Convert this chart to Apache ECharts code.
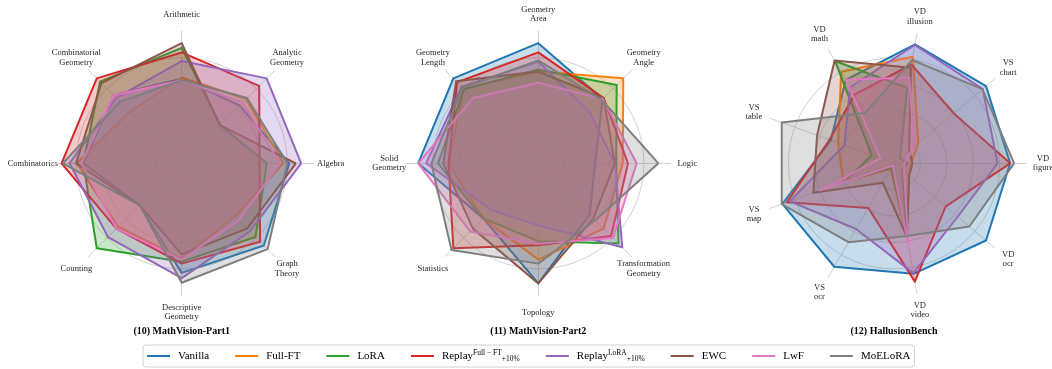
<!DOCTYPE html>
<html>
<head>
<meta charset="utf-8">
<script src="https://cdn.jsdelivr.net/npm/echarts@6/dist/echarts.min.js"></script>
<style>
  html, body { margin: 0; padding: 0; background: #fff; }
  #chart { width: 1052px; height: 369px; }
</style>
</head>
<body>
<div id="chart"></div>
<script>
// Methods compared in every panel, with their line colours
const methods = ['Vanilla', 'Full-FT', 'LoRA', 'Replay Full-FT', 'Replay LoRA', 'EWC', 'LwF', 'MoELoRA'];
const colors = ['#1f77b4', '#ff7f0e', '#2ca02c', '#d62728', '#9467bd', '#8c564b', '#e377c2', '#7f7f7f'];

// (10) MathVision-Part1: axes listed counter-clockwise starting at 3 o'clock
const part1Axes = ['Algebra', 'Analytic\nGeometry', 'Arithmetic', 'Combinatorial\nGeometry',
  'Combinatorics', 'Counting', 'Descriptive\nGeometry', 'Graph\nTheory'];
// one row per method, normalised scores
const part1Scores = [
  [0.815, 0.62, 0.64, 0.73, 0.745, 0.45, 0.83, 0.88],   // Vanilla
  [0.77, 0.69, 0.65, 0.555, 0.795, 0.68, 0.72, 0.57],   // Full-FT
  [0.645, 0.41, 0.875, 0.875, 0.745, 0.91, 0.745, 0.79], // LoRA
  [0.59, 0.83, 0.84, 0.91, 0.91, 0.70, 0.76, 0.84],     // Replay Full-FT
  [0.905, 0.91, 0.775, 0.70, 0.85, 0.79, 0.87, 0.73],   // Replay LoRA
  [0.865, 0.41, 0.91, 0.86, 0.80, 0.45, 0.69, 0.70],    // EWC
  [0.745, 0.65, 0.63, 0.73, 0.76, 0.70, 0.73, 0.61],    // LwF
  [0.80, 0.70, 0.63, 0.66, 0.90, 0.45, 0.905, 0.92]     // MoELoRA
];

// (11) MathVision-Part2
const part2Axes = ['Logic', 'Geometry\nAngle', 'Geometry\nArea', 'Geometry\nLength',
  'Solid\nGeometry', 'Statistics', 'Topology', 'Transformation\nGeometry'];
const part2Scores = [
  [0.43, 0.69, 0.91, 0.91, 0.91, 0.59, 0.91, 0.55],     // Vanilla
  [0.64, 0.91, 0.695, 0.80, 0.68, 0.59, 0.73, 0.70],    // Full-FT
  [0.59, 0.84, 0.71, 0.795, 0.76, 0.59, 0.59, 0.86],    // LoRA
  [0.68, 0.70, 0.84, 0.87, 0.68, 0.91, 0.62, 0.78],     // Replay Full-FT
  [0.58, 0.55, 0.77, 0.82, 0.85, 0.50, 0.47, 0.90],     // Replay LoRA
  [0.58, 0.70, 0.695, 0.88, 0.72, 0.70, 0.91, 0.59],    // EWC
  [0.745, 0.69, 0.61, 0.70, 0.91, 0.73, 0.61, 0.80],    // LwF
  [0.91, 0.68, 0.78, 0.81, 0.81, 0.93, 0.76, 0.61]      // MoELoRA
];

// (12) HallusionBench
const hallAxes = ['VD\nfigure', 'VS\nchart', 'VD\nillusion', 'VD\nmath', 'VS\ntable',
  'VS\nmap', 'VS\nocr', 'VD\nvideo', 'VD\nocr'];
const hallScores = [
  [0.88, 0.91, 0.915, 0.73, 0.51, 0.90, 0.905, 0.85, 0.91],  // Vanilla
  [0.13, 0.24, 0.82, 0.80, 0.45, 0.41, 0.05, 0.55, 0.15],    // Full-FT
  [0.10, 0.06, 0.58, 0.895, 0.18, 0.39, 0.04, 0.56, 0.08],   // LoRA
  [0.88, 0.59, 0.76, 0.60, 0.52, 0.865, 0.39, 0.91, 0.51],   // Replay Full-FT
  [0.785, 0.877, 0.91, 0.665, 0.40, 0.84, 0.575, 0.845, 0.63], // Replay LoRA
  [0.14, 0.15, 0.735, 0.90, 0.62, 0.65, 0.17, 0.57, 0.15],   // EWC
  [0.08, 0.20, 0.66, 0.73, 0.11, 0.60, 0.02, 0.63, 0.10],    // LwF
  [0.91, 0.875, 0.795, 0.44, 0.905, 0.905, 0.69, 0.56, 0.745] // MoELoRA
];

const panelTitles = ['(10) MathVision-Part1', '(11) MathVision-Part2', '(12) HallusionBench'];

const panels = [
  { axes: part1Axes, scores: part1Scores, cx: 181.7 },
  { axes: part2Axes, scores: part2Scores, cx: 538.3 },
  { axes: hallAxes, scores: hallScores, cx: 894 }
];
const CY = 163.3, RADIUS = 132, LABEL_R = 149;
const SERIF = '"Liberation Serif", "DejaVu Serif", serif';

const gridColor = '#d2d2d2';
const radars = panels.map(p => ({
  center: [p.cx, CY],
  radius: RADIUS,
  startAngle: 0,
  shape: 'circle',
  splitNumber: 5,
  indicator: p.axes.map(n => ({ name: n, min: 0, max: 1 })),
  axisName: { show: false },
  axisLine: { lineStyle: { color: gridColor, width: 1 } },
  // rings at 0.2 … 0.8; the outer rim at 1.0 stays hidden
  splitLine: { lineStyle: { color: [gridColor, gridColor, gridColor, gridColor, gridColor, 'rgba(0,0,0,0)'], width: 1 } },
  splitArea: { show: false }
}));

const series = [];
panels.forEach((p, ri) => {
  methods.forEach((m, mi) => {
    series.push({
      type: 'radar',
      radarIndex: ri,
      name: m,
      symbol: 'none',
      color: colors[mi],
      lineStyle: { color: colors[mi], width: 2 },
      itemStyle: { color: colors[mi] },
      areaStyle: { color: colors[mi], opacity: 0.25 },
      emphasis: { disabled: true },
      data: [{ name: m, value: p.scores[mi] }]
    });
  });
});

// axis names and panel titles as text placed around each radar
const graphics = [];
panels.forEach((p, ri) => {
  const n = p.axes.length;
  p.axes.forEach((name, i) => {
    const a = 2 * Math.PI * i / n;
    graphics.push({
      type: 'text',
      x: p.cx + LABEL_R * Math.cos(a),
      y: CY - LABEL_R * Math.sin(a),
      silent: true,
      style: {
        text: name,
        fontFamily: SERIF,
        fontSize: 8.5,
        lineHeight: 9.5,
        fill: '#262626',
        align: 'center',
        verticalAlign: 'middle'
      }
    });
  });
  graphics.push({
    type: 'text',
    x: p.cx,
    y: 331,
    silent: true,
    style: {
      text: panelTitles[ri],
      fontFamily: SERIF,
      fontSize: 10,
      fontWeight: 'bold',
      fill: '#000',
      align: 'center',
      verticalAlign: 'middle'
    }
  });
});

const chart = echarts.init(document.getElementById('chart'), null, { renderer: 'canvas' });
chart.setOption({
  animation: false,
  backgroundColor: '#fff',
  radar: radars,
  series: series,
  graphic: graphics,
  legend: {
    left: 143,
    top: 345,
    data: methods,
    icon: 'rect',
    itemWidth: 23,
    itemHeight: 2,
    itemGap: 26,
    padding: [4, 4],
    borderColor: '#d0d0d0',
    borderWidth: 1,
    borderRadius: 3,
    selectedMode: false,
    formatter: name => {
      if (name === 'Replay Full-FT') return '{m|Replay}{sup|Full \u2212 FT}{sub|+10%}';
      if (name === 'Replay LoRA') return '{m|Replay}{sup|LoRA}{sub|+10%}';
      return '{m|' + name + '}';
    },
    textStyle: {
      fontFamily: SERIF,
      fontSize: 11,
      color: '#000',
      padding: [0, 0, 0, 3],
      rich: {
        m: { fontFamily: SERIF, fontSize: 11, lineHeight: 14, color: '#000' },
        sup: { fontFamily: SERIF, fontSize: 7.5, lineHeight: 10, verticalAlign: 'top', color: '#000' },
        sub: { fontFamily: SERIF, fontSize: 7.5, lineHeight: 9, verticalAlign: 'bottom', color: '#000' }
      }
    }
  }
});
</script>
</body>
</html>
